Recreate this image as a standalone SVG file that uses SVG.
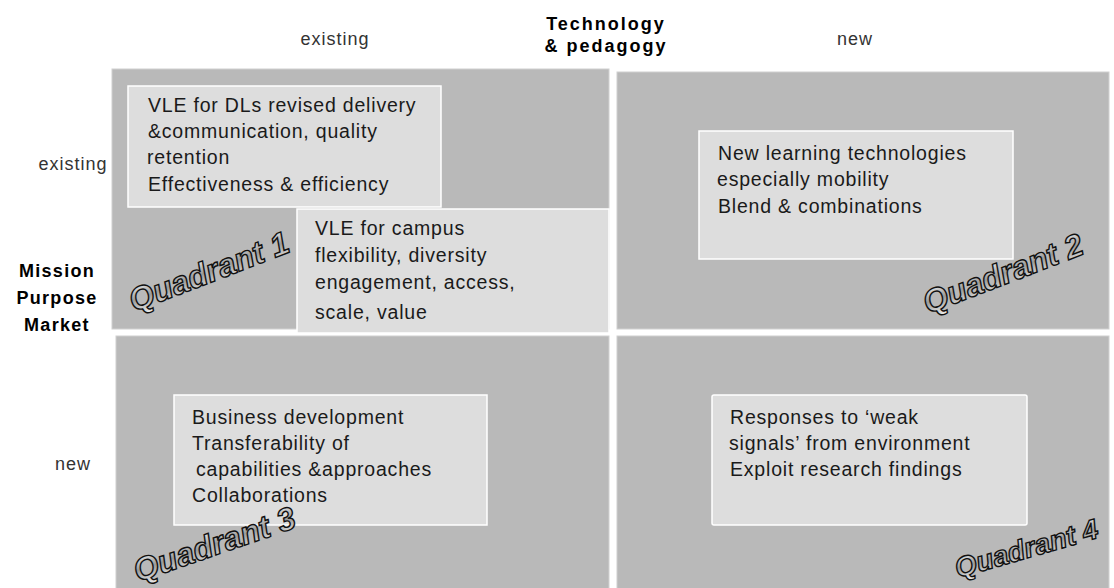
<svg xmlns="http://www.w3.org/2000/svg" width="1114" height="588" viewBox="0 0 1114 588">
<defs>
<style>
.quad{fill:#b9b9b9;stroke:#d0d0d0;stroke-width:1}
.box{fill:#dddddd;stroke:#ffffff;stroke-width:1.5}
.t{font-family:"Liberation Sans",Arial,sans-serif;font-size:19.5px;letter-spacing:0.8px;fill:#1a1a1a}
.ax{font-family:"Liberation Sans",Arial,sans-serif;font-size:18px;letter-spacing:1px;fill:#333}
.bold{font-family:"Liberation Sans",Arial,sans-serif;font-size:18px;font-weight:bold;fill:#000}
.ql{font-family:"Liberation Sans",Arial,sans-serif;font-size:32px;font-weight:bold;font-style:italic;fill:url(#qg);stroke:#111;stroke-width:1.4}
.ql4{font-size:28px}
</style>
<linearGradient id="qg" x1="0" y1="0" x2="0" y2="1">
<stop offset="0" stop-color="#ffffff"/>
<stop offset="0.5" stop-color="#9a9a9a"/>
<stop offset="1" stop-color="#f0f0f0"/>
</linearGradient>
</defs>
<rect width="1114" height="588" fill="#ffffff"/>
<g id="axis-labels">
<text class="ax" x="335" y="45" text-anchor="middle">existing</text>
<text class="ax" x="855" y="45" text-anchor="middle">new</text>
<text class="bold" x="606" y="30" text-anchor="middle" letter-spacing="2">Technology</text>
<text class="bold" x="606" y="52" text-anchor="middle" letter-spacing="2">&amp; pedagogy</text>
<text class="ax" x="73" y="170" text-anchor="middle">existing</text>
<text class="ax" x="73" y="470" text-anchor="middle">new</text>
<text class="bold" x="57" y="277" text-anchor="middle" letter-spacing="1.3">Mission</text>
<text class="bold" x="57" y="304" text-anchor="middle" letter-spacing="1.3">Purpose</text>
<text class="bold" x="57" y="331" text-anchor="middle" letter-spacing="1.3">Market</text>
</g>
<g id="quadrant1">
<rect class="quad" x="112" y="69" width="497" height="260"/>
</g>
<g id="quadrant2">
<rect class="quad" x="617" y="72" width="492" height="257"/>
</g>
<g id="quadrant3">
<rect class="quad" x="116" y="336" width="493" height="260"/>
</g>
<g id="quadrant4">
<rect class="quad" x="617" y="336" width="492" height="260"/>
</g>
<g id="box-vle-dl">
<rect class="box" x="128" y="86" width="313" height="121"/>
<text class="t" x="148" y="112">VLE for DLs revised delivery</text>
<text class="t" x="148" y="138">&amp;communication, quality</text>
<text class="t" x="147" y="164">retention</text>
<text class="t" x="148" y="191">Effectiveness &amp; efficiency</text>
</g>
<g id="box-vle-campus">
<rect class="box" x="297" y="209" width="312" height="124"/>
<text class="t" x="315" y="235">VLE for campus</text>
<text class="t" x="315" y="262">flexibility, diversity</text>
<text class="t" x="315" y="289">engagement, access,</text>
<text class="t" x="315" y="319">scale, value</text>
</g>
<g id="box-q2">
<rect class="box" x="699" y="131" width="314" height="128"/>
<text class="t" x="718" y="160">New learning technologies</text>
<text class="t" x="717" y="186">especially mobility</text>
<text class="t" x="718" y="213">Blend &amp; combinations</text>
</g>
<g id="box-q3">
<rect class="box" x="174" y="395" width="313" height="130"/>
<text class="t" x="192" y="424">Business development</text>
<text class="t" x="192" y="450">Transferability of</text>
<text class="t" x="196" y="476">capabilities &amp;approaches</text>
<text class="t" x="192" y="502">Collaborations</text>
</g>
<g id="box-q4">
<rect class="box" x="712" y="395" width="315" height="130" rx="2"/>
<text class="t" x="730" y="424">Responses to ‘weak</text>
<text class="t" x="729" y="450">signals’ from environment</text>
<text class="t" x="730" y="476">Exploit research findings</text>
</g>
<g id="quadrant-labels">
<text class="ql" transform="translate(134,312) rotate(-21)">Quadrant 1</text>
<text class="ql" transform="translate(928,314) rotate(-21)">Quadrant 2</text>
<text class="ql" transform="translate(138,582) rotate(-19)">Quadrant 3</text>
<text class="ql ql4" transform="translate(958,578) rotate(-16)">Quadrant 4</text>
</g>
<g id="connectors"></g>
</svg>
